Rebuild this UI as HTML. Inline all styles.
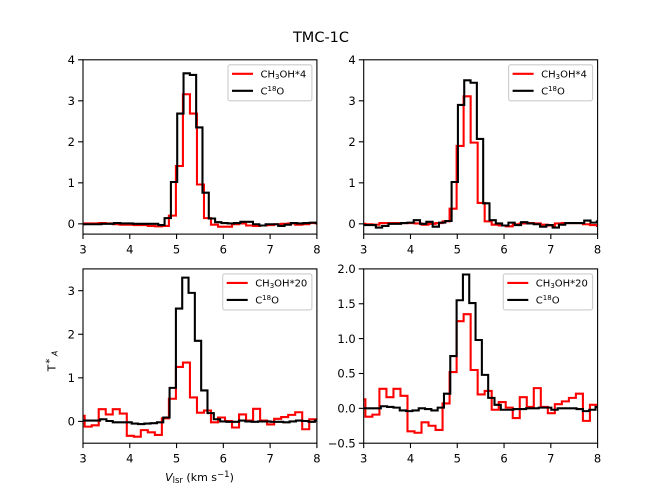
<!DOCTYPE html>
<html>
<head>
<meta charset="utf-8">
<title>TMC-1C</title>
<style>
html,body{margin:0;padding:0;background:#fff;}
svg{display:block;font-family:"DejaVu Sans","Liberation Sans",sans-serif;}
</style>
</head>
<body>
<svg id="fig" xmlns="http://www.w3.org/2000/svg" width="664" height="498" viewBox="0 0 664 498">
  <text x="321" y="42" text-anchor="middle" font-size="14.5" fill="#000">TMC-1C</text>
  <text transform="translate(55.5,361) rotate(-90)" text-anchor="middle" font-size="11" fill="#000">T<tspan dy="-3" dx="1" font-size="10">*</tspan><tspan dy="5" dx="2.5" font-size="8" font-style="italic">A</tspan></text>
  <text x="199.5" y="481" text-anchor="middle" font-size="11" fill="#000"><tspan font-style="italic">V</tspan><tspan dy="2" font-size="8.5">lsr</tspan><tspan dy="-2"> (km s</tspan><tspan dy="-4" font-size="8.5">−1</tspan><tspan dy="4">)</tspan></text>
</svg>
<script>
const xTicks = [3, 4, 5, 6, 7, 8];
const yTicksUpper = ['0', '1', '2', '3', '4'];
const yTicksLowerLeft = ['0', '1', '2', '3'];
const yTicksLowerRight = ['-0.5', '0.0', '0.5', '1.0', '1.5', '2.0'];

const redTopLeft = [-.01,.01,.01,.02,.01,-.01,-.02,-.02,-.03,-.03,-.05,-.06,-.05,.2,1.41,3.16,2.69,.96,.14,-.02,-.07,-.07,-.01,.01,-.04,-.05,-.04,-.03,-.01,0,.01,-.02,-.01,.02,.01];
const blackTopLeft = [-.01,-.01,-.01,0,0,.02,.01,.01,0,0,0,0,-.03,.14,1.02,2.69,3.67,3.63,2.35,.76,.13,.04,.02,.01,.02,.05,.05,-.01,-.04,-.01,-.01,-.05,-.02,.02,.01,.02,.03,.02];

const redTopRight = [0,-.01,-.02,.02,.02,.02,.02,.02,.01,-.02,0,.02,.06,.37,1.9,3.11,1.98,.51,.06,-.02,-.04,-.06,-.01,.01,.02,.01,-.02,-.04,.01,.02,.02,.02,-.01,-.03,-.05];
const blackTopRight = [-.03,-.03,-.09,-.05,0,0,.02,.03,.09,0,.05,-.07,.03,.07,1.02,2.9,3.5,3.44,2.07,.5,.09,.01,-.04,.03,-.03,.04,.01,-.01,-.07,-.03,-.09,-.02,.02,.02,.02,.08,.03,.06];

const redBottomLeft = [.13,-.12,-.09,.28,.16,.28,.18,-.33,-.35,-.2,-.25,-.31,.07,.52,1.25,1.35,.55,.2,.25,-.02,.09,.01,-.14,.16,.02,.29,.02,-.07,.06,.1,.15,.21,-.18,.05,.05];
const blackBottomLeft = [.02,.02,.02,.05,.01,-.02,-.02,-.02,-.05,-.06,-.05,-.04,-.02,.09,.77,2.59,3.3,2.95,1.85,.71,.19,.05,0,-.01,-.01,.02,0,-.01,0,0,-.01,-.01,-.02,0,.02,.01,-.01,.02];

const redBottomRight = [.13,-.12,-.09,.28,.16,.28,.18,-.33,-.35,-.2,-.25,-.31,.07,.52,1.25,1.35,.55,.2,.25,-.02,.09,.01,-.14,.16,.02,.29,.02,-.07,.06,.1,.15,.21,-.18,.05,.05];
const blackBottomRight = [0,0,0,.03,.02,.01,-.03,-.04,-.03,0,-.01,-.03,.01,.21,.75,1.55,1.92,1.51,.98,.48,.15,.05,-.02,-.02,-.01,-.01,0,0,.01,.01,-.02,0,0,0,-.01,-.04,-.02,.02];

const redStart = 2.886;
const redStep = 0.15;
const blackStep = 0.135;
const blackStartTop = 2.989;
const blackStartBottom = 2.961;

const NS = 'http://www.w3.org/2000/svg';
const fig = document.getElementById('fig');

function mk(tag, attrs, parent) {
  const el = document.createElementNS(NS, tag);
  for (const k in attrs) el.setAttribute(k, attrs[k]);
  (parent || fig).appendChild(el);
  return el;
}

function stepPath(values, start, step, sx, sy) {
  let d = '';
  values.forEach(function (v, i) {
    const x0 = sx(start + i * step).toFixed(2);
    const x1 = sx(start + (i + 1) * step).toFixed(2);
    const y = sy(v).toFixed(2);
    d += (i === 0 ? 'M' : 'L') + x0 + ' ' + y + 'L' + x1 + ' ' + y;
  });
  return d;
}

function drawPanel(p) {
  const L = p.left, T = p.top, W = 233.9, H = 174.3;
  const sx = function (v) { return L + (v - 3) / 5 * W; };
  const sy = function (v) { return T + H - (v - p.yMin) / (p.yMax - p.yMin) * H; };

  const g = mk('g', {});
  
  

  const clip = mk('clipPath', { id: 'clip-' + p.id }, g);
  mk('rect', { x: L, y: T, width: W, height: H }, clip);

  const red = mk('path', {
    d: stepPath(p.red, redStart, redStep, sx, sy),
    fill: 'none', stroke: '#ff0000', 'stroke-width': 2.08,
    'clip-path': 'url(#clip-' + p.id + ')'
  }, g);
  
  

  const black = mk('path', {
    d: stepPath(p.black, p.blackStart, blackStep, sx, sy),
    fill: 'none', stroke: '#000000', 'stroke-width': 2.08,
    'clip-path': 'url(#clip-' + p.id + ')'
  }, g);
  
  

  const frame = mk('rect', { x: L, y: T, width: W, height: H, fill: 'none', stroke: '#000', 'stroke-width': 1.1 }, g);
  
  

  xTicks.forEach(function (t) {
    const x = sx(t);
    const tick = mk('line', { x1: x, x2: x, y1: T + H, y2: T + H + 4.9, stroke: '#000', 'stroke-width': 1.1 }, g);
    
    
    const lab = mk('text', { x: x, y: T + H + 19.5, 'text-anchor': 'middle', 'font-size': 11.5, fill: '#000' }, g);
    
    
    lab.textContent = String(t);
  });

  p.yTicks.forEach(function (t) {
    const y = sy(parseFloat(t));
    const tick = mk('line', { x1: L - 4.9, x2: L, y1: y, y2: y, stroke: '#000', 'stroke-width': 1.1 }, g);
    
    
    const lab = mk('text', { x: L - 8, y: y + 4.2, 'text-anchor': 'end', 'font-size': 11.5, fill: '#000' }, g);
    
    
    lab.textContent = t.replace('-', '\u2212');
  });

  const leg = mk('g', {}, g);
  
  
  const lx = p.legendX, ly = T + 5, lw = L + W - 5 - lx;
  const box = mk('rect', { x: lx, y: ly, width: lw, height: 36, rx: 2, fill: '#fff', 'fill-opacity': 0.8, stroke: '#cccccc', 'stroke-width': 1.1 }, leg);
  
  

  const e1 = mk('line', { x1: lx + 4, x2: lx + 25, y1: ly + 9, y2: ly + 9, stroke: '#ff0000', 'stroke-width': 2.08 }, leg);
  
  
  const t1 = mk('text', { x: lx + 32.5, y: ly + 12.5, 'font-size': 10, fill: '#000' }, leg);
  
  
  t1.appendChild(document.createTextNode('CH'));
  mk('tspan', { dy: 1.5, 'font-size': 7 }, t1).textContent = '3';
  mk('tspan', { dy: -1.5 }, t1).textContent = 'OH*' + p.factor;

  const e2 = mk('line', { x1: lx + 4, x2: lx + 25, y1: ly + 26, y2: ly + 26, stroke: '#000', 'stroke-width': 2.08 }, leg);
  
  
  const t2 = mk('text', { x: lx + 32.5, y: ly + 29.5, 'font-size': 10, fill: '#000' }, leg);
  
  
  t2.appendChild(document.createTextNode('C'));
  mk('tspan', { dy: -3.5, 'font-size': 7 }, t2).textContent = '18';
  mk('tspan', { dy: 3.5 }, t2).textContent = 'O';
}

drawPanel({ id: 'top-left', left: 83, top: 59.8, yMin: -0.25, yMax: 4, yTicks: yTicksUpper, red: redTopLeft, black: blackTopLeft, blackStart: blackStartTop, legendX: 228, factor: '4' });
drawPanel({ id: 'top-right', left: 363.7, top: 59.8, yMin: -0.25, yMax: 4, yTicks: yTicksUpper, red: redTopRight, black: blackTopRight, blackStart: blackStartTop, legendX: 508.6, factor: '4' });
drawPanel({ id: 'bottom-left', left: 83, top: 268.9, yMin: -0.5, yMax: 3.5, yTicks: yTicksLowerLeft, red: redBottomLeft, black: blackBottomLeft, blackStart: blackStartBottom, legendX: 222.7, factor: '20' });
drawPanel({ id: 'bottom-right', left: 363.7, top: 268.9, yMin: -0.5, yMax: 2, yTicks: yTicksLowerRight, red: redBottomRight, black: blackBottomRight, blackStart: blackStartBottom, legendX: 503.3, factor: '20' });
</script>
</body>
</html>
